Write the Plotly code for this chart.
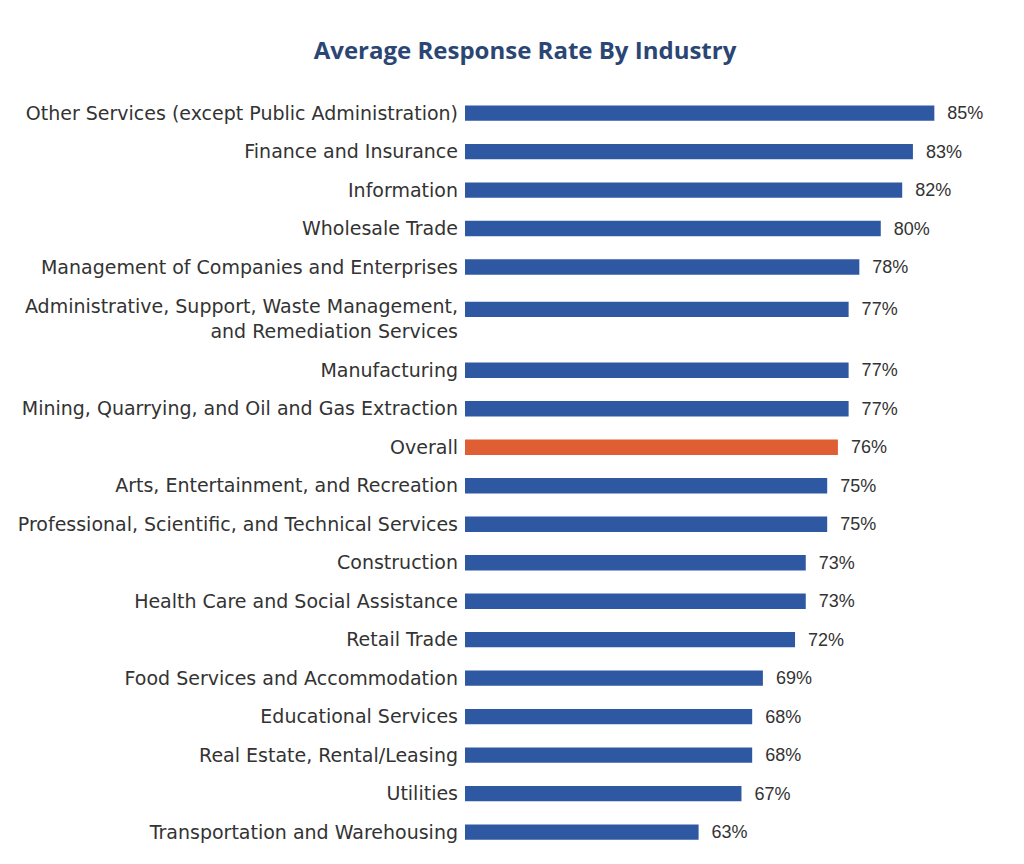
import plotly.graph_objects as go

industries = [
    "Other Services (except Public Administration)",
    "Finance and Insurance",
    "Information",
    "Wholesale Trade",
    "Management of Companies and Enterprises",
    "Administrative, Support, Waste Management,<br>and Remediation Services",
    "Manufacturing",
    "Mining, Quarrying, and Oil and Gas Extraction",
    "Overall",
    "Arts, Entertainment, and Recreation",
    "Professional, Scientific, and Technical Services",
    "Construction",
    "Health Care and Social Assistance",
    "Retail Trade",
    "Food Services and Accommodation",
    "Educational Services",
    "Real Estate, Rental/Leasing",
    "Utilities",
    "Transportation and Warehousing",
]
rates = [85, 83, 82, 80, 78, 77, 77, 77, 76, 75, 75, 73, 73, 72, 69, 68, 68, 67, 63]

BLUE = "#2E58A2"
ORANGE = "#E05E34"
colors = [ORANGE if name == "Overall" else BLUE for name in industries]

# row positions: extra room below multi-line labels
lines = [s.count("<br>") + 1 for s in industries]
pos = []
y = 0.0
for i, n in enumerate(lines):
    if i > 0:
        y += 1 + 0.1 * (n - 1) + 0.58 * (lines[i - 1] - 1)
    pos.append(y)
tick_pos = [p + 0.25 * (n - 1) for p, n in zip(pos, lines)]

fig = go.Figure(
    go.Bar(
        x=rates,
        y=pos,
        orientation="h",
        marker=dict(color=colors, line=dict(width=0)),
        width=0.40,
        text=[f"\u00a0\u00a0{v}%" for v in rates],
        textposition="outside",
        constraintext="none",
        textfont=dict(family="Liberation Sans, Arial, sans-serif", size=18, color="#333333"),
        cliponaxis=False,
        hoverinfo="skip",
    )
)

fig.update_layout(
    width=1024,
    height=864,
    paper_bgcolor="white",
    plot_bgcolor="white",
    margin=dict(l=457, r=28, t=82, b=16),
    showlegend=False,
    title=dict(
        text="<b>Average Response Rate By Industry</b>",
        x=517 / 1024,
        xanchor="center",
        xref="container",
        y=1 - 43 / 864,
        yanchor="middle",
        yref="container",
        font=dict(family="Open Sans, sans-serif", size=24, color="#2B4674"),
    ),
    font=dict(family="DejaVu Sans, sans-serif", color="#333333"),
)

fig.update_xaxes(
    range=[41.2, 91.5],
    visible=False,
    showgrid=False,
    zeroline=False,
)
fig.update_yaxes(
    range=[19.3, -0.6],
    tickmode="array",
    tickvals=tick_pos,
    ticktext=industries,
    showgrid=False,
    zeroline=False,
    showline=False,
    ticks="",
    automargin=False,
    ticklabelstandoff=6,
    tickfont=dict(family="DejaVu Sans, sans-serif", size=19, color="#333333"),
)

fig.write_html("out.html")
